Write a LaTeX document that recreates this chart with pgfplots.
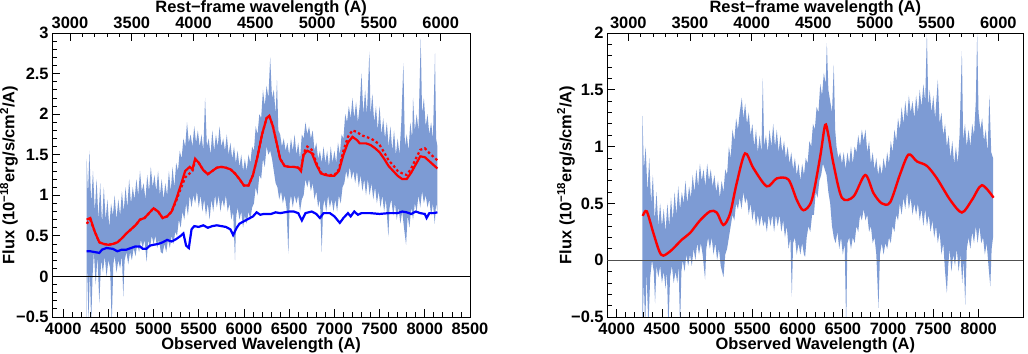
\documentclass[border=0pt]{standalone}
\usepackage{pgfplots}
\pgfplotsset{compat=1.18}
\usepgfplotslibrary{fillbetween}
\usepackage{fontspec}
\setmainfont{Liberation Sans}
\definecolor{specblue}{RGB}{125,155,212}
\definecolor{zerogray}{RGB}{80,80,80}
\newcommand{\tk}[1]{{\fontsize{16.5}{16.5}\selectfont\bfseries #1}}

\pgfplotsset{
  base/.style={
    scale only axis, height=284bp,
    /pgf/number format/assume math mode=true,
    /pgf/number format/1000 sep={},
    label style={font=\fontsize{16.5}{16.5}\selectfont\bfseries},
    major tick length=8bp, minor tick length=4.5bp,
    every tick/.style={black, line width=0.8bp},
    axis line style={line width=0.8bp},
    tick align=inside,
  },
  mainaxis/.style={
    base,
    xtick pos=left, ytick pos=left,
    minor x tick num=4, minor y tick num=4,
    xticklabel style={anchor=base, yshift=-17bp, inner sep=0pt},
    yticklabel style={anchor=east, xshift=-3.5bp, inner sep=0pt},
    xlabel style={at={(axis description cs:0.5,0)}, anchor=base, yshift=-32bp, inner sep=0pt},
    xlabel={Observed Wavelength (A)},
    ylabel={Flux (10\textsuperscript{−18}erg/s/cm\textsuperscript{2}/A)},
  },
  topaxis/.style={
    base,
    axis x line*=top, axis y line=none,
    xtick={3000,3500,...,6000}, minor x tick num=4,
    xticklabels={\tk{3000},\tk{3500},\tk{4000},\tk{4500},\tk{5000},\tk{5500},\tk{6000}},
    xticklabel style={anchor=base, yshift=4.7bp, inner sep=0pt},
    xlabel style={at={(axis description cs:0.5,1)}, anchor=base, yshift=20.5bp, inner sep=0pt},
    xlabel={Rest−frame wavelength (A)},
    ymin=0, ymax=1,
  },
}

\begin{document}
\begin{tikzpicture}

% ---------------- LEFT PANEL ----------------
\begin{axis}[mainaxis, at={(52.3bp,37bp)}, anchor=south west, width=417.7bp,
  xmin=3880, xmax=8500, ymin=-0.5, ymax=3,
  xtick={4000,4500,...,8500},
  xticklabels={\tk{4000},\tk{4500},\tk{5000},\tk{5500},\tk{6000},\tk{6500},\tk{7000},\tk{7500},\tk{8000},\tk{8500}},
  ytick={-0.5,0,0.5,1,1.5,2,2.5,3},
  yticklabels={\tk{−0.5},\tk{0},\tk{0.5},\tk{1},\tk{1.5},\tk{2},\tk{2.5},\tk{3}},
  ylabel style={at={(axis description cs:-0.0821,0.5)}, anchor=south, inner sep=0pt},
]
\addplot[name path=UL, draw=none, forget plot] coordinates {
(4260,1.45)(4275,1.0)(4290,1.55)(4310,0.9)(4330,1.3)(4350,0.8)(4370,1.2)(4390,0.7)(4410,1.15)(4430,0.65)
(4450,1.1)(4470,0.7)(4490,0.95)(4510,0.6)(4530,0.9)(4550,0.75)(4570,1.0)(4590,0.7)(4610,0.95)(4630,0.75)
(4650,1.05)(4670,0.8)(4690,1.1)(4710,0.85)(4730,1.2)(4750,0.9)(4770,1.1)(4790,0.95)(4810,1.2)(4830,1.0)
(4850,1.3)(4870,1.05)(4890,1.15)(4910,0.95)(4930,1.25)(4950,1.05)(4970,1.35)(4990,1.1)(5010,1.25)(5030,1.05)
(5050,1.3)(5070,1.0)(5090,1.2)(5110,0.95)(5130,1.15)(5150,1.0)(5170,1.3)(5190,1.05)(5210,1.35)(5230,1.1)
(5250,1.4)(5270,1.3)(5290,1.55)(5310,1.45)(5330,1.7)(5350,1.6)(5370,1.9)(5390,1.65)(5410,1.75)(5430,1.6)
(5450,1.85)(5470,1.65)(5490,1.8)(5510,1.6)(5530,1.75)(5550,1.55)(5570,2.2)(5590,1.6)(5610,1.7)(5630,1.5)
(5650,1.8)(5670,1.55)(5690,1.75)(5710,1.6)(5730,1.85)(5750,1.6)(5770,1.7)(5790,1.55)(5810,1.75)(5830,1.5)
(5850,1.65)(5870,1.45)(5890,1.6)(5910,1.4)(5930,1.55)(5950,1.35)(5970,1.5)(5990,1.3)(6010,1.45)(6030,1.3)
(6050,1.5)(6070,1.4)(6090,1.6)(6110,1.55)(6130,1.85)(6150,1.75)(6170,2.0)(6190,1.95)(6210,2.3)(6230,2.1)
(6250,2.35)(6270,2.2)(6290,2.7)(6310,2.2)(6330,2.3)(6350,2.0)(6365,2.42)(6380,1.8)(6400,1.75)(6420,1.6)
(6440,1.7)(6460,1.55)(6480,1.65)(6500,1.5)(6520,1.7)(6540,1.55)(6560,1.75)(6580,1.5)(6600,1.65)(6620,1.45)
(6640,1.75)(6660,1.7)(6680,1.9)(6700,1.75)(6720,1.85)(6740,1.7)(6760,1.8)(6780,1.55)(6800,1.65)(6820,1.45)
(6840,1.55)(6860,1.4)(6880,1.6)(6900,1.4)(6920,1.55)(6940,1.35)(6960,1.6)(6980,1.4)(7000,1.55)(7020,1.4)
(7040,1.65)(7060,1.5)(7080,1.75)(7100,1.7)(7120,2.0)(7140,1.9)(7160,2.1)(7180,1.95)(7200,2.2)(7220,1.95)
(7240,2.15)(7260,1.9)(7280,2.1)(7300,2.5)(7320,2.0)(7340,2.3)(7360,2.0)(7387,2.77)(7400,2.0)(7420,2.25)
(7440,1.9)(7460,2.1)(7480,1.8)(7500,2.1)(7520,1.75)(7540,1.95)(7560,1.7)(7580,1.9)(7600,1.6)(7620,1.85)
(7640,1.55)(7660,1.8)(7680,1.5)(7700,1.7)(7720,1.5)(7740,1.9)(7763,2.63)(7780,1.6)(7800,1.75)(7820,1.55)
(7840,1.9)(7860,1.7)(7870,2.2)(7890,1.8)(7910,2.0)(7930,1.8)(7955,2.93)(7970,2.0)(7990,2.2)(8010,1.85)
(8030,2.0)(8050,1.75)(8070,1.9)(8090,1.7)(8113,2.75)(8125,1.7)(8140,1.6)
};
\addplot[name path=LL, draw=none, forget plot] coordinates {
(4260,-0.6)(4270,0.2)(4280,-0.6)(4295,0.1)(4310,-0.6)(4325,0.0)(4340,0.3)(4360,-0.1)(4380,0.25)(4400,-0.33)
(4420,0.2)(4440,0.05)(4460,0.25)(4480,0.0)(4500,0.2)(4520,0.1)(4537,-0.6)(4555,0.15)(4570,0.25)(4590,0.05)
(4610,0.2)(4630,0.1)(4650,0.25)(4665,-0.25)(4680,0.2)(4700,0.3)(4720,0.15)(4740,0.3)(4760,0.2)(4780,0.35)
(4800,0.25)(4820,0.4)(4840,0.3)(4860,0.45)(4880,0.35)(4900,0.45)(4924,0.18)(4940,0.45)(4960,0.35)(4980,0.5)
(5000,0.4)(5020,0.5)(5040,0.35)(5060,0.45)(5080,0.3)(5100,0.28)(5120,0.4)(5140,0.3)(5160,0.45)(5180,0.35)
(5200,0.5)(5220,0.4)(5240,0.55)(5260,0.5)(5280,0.7)(5300,0.6)(5320,0.8)(5340,0.7)(5360,0.9)(5380,0.75)
(5400,1.0)(5420,0.85)(5440,1.0)(5460,0.9)(5480,1.05)(5500,0.85)(5520,1.0)(5540,0.8)(5560,0.95)(5580,0.75)
(5600,0.9)(5620,0.7)(5640,0.95)(5660,0.8)(5680,1.0)(5700,0.85)(5720,1.0)(5740,0.8)(5760,0.95)(5780,0.85)
(5800,1.0)(5820,0.8)(5840,0.9)(5860,0.7)(5880,0.8)(5901,0.2)(5915,0.75)(5930,0.85)(5950,0.7)(5970,0.8)
(5990,0.6)(6010,0.75)(6030,0.65)(6050,0.8)(6070,0.7)(6090,0.85)(6110,0.9)(6130,1.1)(6150,1.0)(6170,1.25)
(6190,1.2)(6210,1.45)(6230,1.35)(6250,1.6)(6270,1.5)(6290,1.55)(6310,1.45)(6330,1.3)(6350,1.15)(6370,1.1)
(6390,0.95)(6410,1.05)(6430,0.9)(6450,1.0)(6470,0.85)(6491,0.28)(6505,0.9)(6520,1.0)(6540,0.85)(6560,1.0)
(6580,0.9)(6600,1.0)(6620,0.8)(6640,0.95)(6660,1.0)(6680,1.2)(6700,1.1)(6720,1.2)(6740,1.05)(6760,1.15)
(6780,0.95)(6800,1.05)(6820,0.85)(6840,0.95)(6860,0.3)(6875,0.85)(6890,0.95)(6910,0.8)(6930,1.0)(6950,0.85)
(6970,0.95)(6990,0.8)(7010,0.95)(7030,0.8)(7050,1.0)(7070,0.9)(7090,1.1)(7110,1.15)(7130,1.3)(7150,1.2)
(7170,1.35)(7190,1.2)(7210,1.3)(7230,1.15)(7250,1.3)(7270,1.1)(7290,1.25)(7310,1.05)(7330,1.2)(7350,1.0)
(7370,1.2)(7390,1.0)(7410,1.15)(7430,0.95)(7450,1.1)(7470,0.9)(7490,1.05)(7510,0.85)(7530,1.0)(7550,0.8)
(7570,0.95)(7597,0.49)(7610,0.85)(7630,0.95)(7650,0.75)(7670,0.9)(7690,0.7)(7710,0.85)(7730,0.65)(7750,0.8)
(7770,0.6)(7793,0.39)(7810,0.75)(7830,0.6)(7850,0.85)(7870,0.7)(7890,0.9)(7910,0.8)(7930,1.0)(7950,0.85)
(7970,1.05)(7990,0.9)(8010,1.0)(8030,0.85)(8050,0.95)(8070,0.75)(8090,0.9)(8110,0.65)(8125,0.9)(8140,0.8)
};
\addplot[specblue, draw=none] fill between[of=UL and LL];
% blue
\addplot[blue, line width=2.2bp] coordinates {
(4260,0.31)(4300,0.31)(4350,0.30)(4400,0.29)(4430,0.33)(4480,0.35)(4550,0.34)(4600,0.31)(4650,0.33)(4700,0.33)
(4750,0.35)(4800,0.37)(4850,0.37)(4880,0.34)(4920,0.34)(4960,0.38)(5000,0.39)(5050,0.40)(5100,0.42)(5150,0.45)
(5200,0.43)(5250,0.46)(5300,0.50)(5330,0.53)(5360,0.38)(5390,0.35)(5420,0.58)(5450,0.62)(5500,0.61)(5550,0.63)
(5600,0.60)(5650,0.62)(5700,0.63)(5750,0.62)(5800,0.61)(5850,0.58)(5880,0.51)(5920,0.60)(5950,0.65)(6000,0.68)
(6050,0.71)(6100,0.74)(6140,0.79)(6180,0.76)(6220,0.77)(6300,0.77)(6350,0.79)(6400,0.78)(6450,0.79)(6500,0.80)
(6550,0.80)(6600,0.78)(6640,0.69)(6680,0.78)(6750,0.80)(6800,0.77)(6840,0.72)(6880,0.78)(6950,0.78)(7000,0.74)
(7060,0.66)(7100,0.72)(7150,0.78)(7180,0.74)(7220,0.80)(7260,0.76)(7300,0.78)(7400,0.78)(7500,0.77)(7600,0.78)
(7700,0.78)(7750,0.80)(7800,0.79)(7850,0.77)(7900,0.80)(7950,0.78)(8000,0.77)(8020,0.72)(8050,0.78)(8100,0.78)
(8140,0.79)
};
% red dotted
\addplot[red, line width=2.2bp, dash pattern=on 2.5bp off 2.5bp] coordinates {
(4260,0.65)(4300,0.70)(4350,0.55)(4400,0.42)(4450,0.40)(4500,0.39)(4550,0.40)(4600,0.42)(4650,0.47)(4700,0.53)
(4750,0.58)(4800,0.63)(4850,0.70)(4900,0.72)(4950,0.78)(5000,0.84)(5050,0.80)(5100,0.72)(5150,0.74)(5200,0.80)
(5250,0.93)(5300,1.08)(5350,1.22)(5380,1.25)(5430,1.30)(5460,1.43)(5500,1.40)(5550,1.31)(5600,1.26)(5650,1.30)
(5700,1.34)(5750,1.35)(5800,1.34)(5850,1.32)(5900,1.27)(5950,1.20)(6000,1.12)(6050,1.12)(6100,1.25)(6150,1.48)
(6200,1.75)(6250,1.95)(6280,1.98)(6320,1.85)(6360,1.65)(6400,1.45)(6450,1.36)(6500,1.35)(6550,1.35)(6600,1.34)
(6630,1.30)(6660,1.52)(6700,1.60)(6750,1.56)(6800,1.40)(6850,1.28)(6900,1.26)(6950,1.25)(7000,1.25)(7050,1.32)
(7100,1.55)(7150,1.72)(7200,1.80)(7250,1.78)(7300,1.74)(7350,1.72)(7400,1.70)(7450,1.67)(7500,1.62)(7550,1.53)
(7600,1.43)(7650,1.37)(7700,1.30)(7750,1.27)(7800,1.25)(7850,1.33)(7900,1.45)(7950,1.56)(8000,1.58)(8050,1.52)
(8100,1.47)(8140,1.43)
};
% red solid
\addplot[red, line width=2.2bp] coordinates {
(4260,0.70)(4300,0.72)(4350,0.55)(4400,0.42)(4450,0.40)(4500,0.39)(4550,0.40)(4600,0.42)(4650,0.47)(4700,0.53)
(4750,0.58)(4800,0.63)(4850,0.70)(4900,0.72)(4950,0.78)(5000,0.84)(5050,0.80)(5100,0.72)(5150,0.74)(5200,0.80)
(5250,0.95)(5300,1.12)(5350,1.30)(5400,1.35)(5430,1.32)(5460,1.45)(5500,1.40)(5550,1.31)(5600,1.26)(5650,1.30)
(5700,1.34)(5750,1.35)(5800,1.34)(5850,1.32)(5900,1.27)(5950,1.20)(6000,1.12)(6050,1.12)(6100,1.25)(6150,1.48)
(6200,1.75)(6250,1.95)(6280,1.98)(6320,1.85)(6360,1.65)(6400,1.45)(6450,1.36)(6500,1.35)(6550,1.35)(6600,1.34)
(6630,1.30)(6660,1.50)(6700,1.55)(6750,1.52)(6800,1.38)(6850,1.27)(6900,1.25)(6950,1.24)(7000,1.24)(7050,1.30)
(7100,1.50)(7150,1.65)(7200,1.72)(7250,1.68)(7280,1.64)(7350,1.64)(7400,1.62)(7450,1.58)(7500,1.53)(7550,1.45)
(7600,1.36)(7650,1.30)(7700,1.24)(7750,1.20)(7800,1.20)(7850,1.28)(7900,1.38)(7950,1.48)(8000,1.47)(8050,1.42)
(8100,1.37)(8140,1.33)
};
\addplot[black, line width=0.6bp] coordinates {(3880,0) (8500,0)};
\end{axis}
\begin{axis}[topaxis, at={(52.3bp,37bp)}, anchor=south west, width=417.7bp,
  xmin=2856.8, xmax=6237]
\addplot[draw=none] coordinates {(4000,0.5)};
\end{axis}

% ---------------- RIGHT PANEL ----------------
\begin{axis}[mainaxis, at={(607.3bp,37bp)}, anchor=south west, width=416bp,
  xmin=3896, xmax=8495, ymin=-0.5, ymax=2,
  xtick={4000,4500,...,8000},
  xticklabels={\tk{4000},\tk{4500},\tk{5000},\tk{5500},\tk{6000},\tk{6500},\tk{7000},\tk{7500},\tk{8000}},
  ytick={-0.5,0,0.5,1,1.5,2},
  yticklabels={\tk{−0.5},\tk{0},\tk{0.5},\tk{1},\tk{1.5},\tk{2}},
  ylabel style={at={(axis description cs:-0.0776,0.5)}, anchor=south, inner sep=0pt},
]
\addplot[name path=UR, draw=none, forget plot] coordinates {
(4285,1.27)(4300,0.8)(4320,1.0)(4340,0.6)(4360,0.9)(4380,0.5)(4400,0.75)(4420,0.35)(4440,0.6)(4460,0.3)
(4480,0.5)(4500,0.3)(4520,0.45)(4540,0.25)(4560,0.5)(4580,0.3)(4600,0.55)(4620,0.35)(4640,0.6)(4660,0.4)
(4680,0.65)(4700,0.45)(4720,0.6)(4740,0.5)(4760,0.7)(4780,0.5)(4800,0.65)(4820,0.55)(4840,0.75)(4860,0.6)
(4880,0.8)(4900,0.65)(4920,0.85)(4940,0.7)(4960,0.8)(4980,0.65)(5000,0.85)(5020,0.7)(5040,0.8)(5060,0.65)
(5080,0.75)(5100,0.6)(5120,0.7)(5140,0.55)(5160,0.7)(5180,0.6)(5200,0.8)(5220,0.75)(5240,1.0)(5260,0.9)
(5280,1.15)(5300,1.05)(5320,1.25)(5340,1.15)(5360,1.3)(5383,1.43)(5400,1.25)(5420,1.38)(5440,1.2)(5460,1.3)
(5480,1.1)(5500,1.2)(5520,1.0)(5540,1.15)(5560,0.95)(5580,1.1)(5600,0.95)(5615,1.6)(5630,1.0)(5650,1.1)
(5670,0.95)(5690,1.15)(5710,1.0)(5730,1.2)(5750,1.0)(5770,1.15)(5790,0.95)(5810,1.1)(5830,0.95)(5850,1.05)
(5870,0.9)(5890,1.0)(5910,0.85)(5930,0.95)(5950,0.8)(5970,0.9)(5990,0.75)(6010,0.85)(6030,0.7)(6050,0.85)
(6070,0.75)(6090,0.9)(6110,0.85)(6130,1.05)(6150,1.0)(6170,1.2)(6190,1.15)(6210,1.35)(6230,1.3)(6250,1.55)
(6270,1.45)(6290,1.65)(6310,1.55)(6323,1.91)(6340,1.5)(6360,1.4)(6380,1.3)(6400,1.72)(6415,1.15)(6430,1.0)
(6450,0.9)(6470,0.95)(6490,0.85)(6510,0.95)(6530,0.8)(6550,0.95)(6570,0.85)(6590,1.0)(6610,0.85)(6630,1.0)
(6650,0.95)(6670,1.1)(6690,1.0)(6710,1.15)(6730,1.05)(6750,1.15)(6770,0.95)(6790,1.05)(6810,0.85)(6830,0.95)
(6850,0.8)(6870,0.9)(6890,0.75)(6910,0.85)(6930,0.75)(6950,0.9)(6970,0.8)(6990,0.95)(7010,0.85)(7030,1.05)
(7050,0.95)(7070,1.15)(7090,1.05)(7110,1.25)(7130,1.15)(7150,1.35)(7170,1.2)(7190,1.4)(7210,1.25)(7230,1.45)
(7250,1.3)(7270,1.4)(7290,1.25)(7310,1.45)(7330,1.3)(7350,1.5)(7370,1.35)(7390,1.55)(7410,1.4)(7429,2.0)
(7445,1.35)(7460,1.5)(7480,1.3)(7500,1.45)(7520,1.25)(7550,1.59)(7570,1.2)(7590,1.3)(7610,1.1)(7630,1.2)
(7650,1.0)(7670,1.1)(7690,0.9)(7710,1.05)(7730,0.85)(7750,1.0)(7770,0.85)(7790,1.1)(7816,1.84)(7830,1.05)
(7850,1.2)(7870,1.0)(7890,1.15)(7910,1.0)(7930,1.2)(7950,1.1)(7970,1.4)(7985,2.0)(8000,1.3)(8020,1.15)
(8040,1.25)(8060,1.05)(8080,1.15)(8100,0.95)(8120,1.45)(8140,0.95)(8160,0.9)
};
\addplot[name path=LR, draw=none, forget plot] coordinates {
(4285,-0.6)(4300,-0.2)(4315,-0.6)(4330,-0.1)(4350,-0.6)(4370,-0.15)(4390,0.0)(4410,-0.1)(4424,-0.38)(4440,-0.05)
(4460,-0.15)(4480,-0.05)(4500,-0.2)(4520,-0.1)(4540,-0.25)(4555,-0.1)(4571,-0.6)(4590,-0.15)(4610,-0.05)(4630,-0.2)
(4650,-0.1)(4670,-0.2)(4685,-0.05)(4700,-0.6)(4715,-0.1)(4730,0.0)(4750,-0.1)(4770,0.05)(4790,-0.05)(4810,0.05)
(4830,-0.05)(4850,0.1)(4870,0.0)(4890,0.15)(4910,0.05)(4930,0.15)(4950,0.05)(4977,-0.17)(4990,0.1)(5010,0.2)
(5030,0.1)(5050,0.2)(5070,0.05)(5090,0.15)(5110,0.0)(5130,0.1)(5150,-0.05)(5180,-0.15)(5200,0.05)(5220,0.1)
(5240,0.2)(5260,0.3)(5280,0.4)(5300,0.35)(5320,0.5)(5340,0.45)(5360,0.55)(5380,0.45)(5400,0.6)(5420,0.5)
(5440,0.55)(5460,0.4)(5480,0.5)(5500,0.35)(5520,0.45)(5540,0.3)(5560,0.4)(5580,0.3)(5600,0.4)(5620,0.3)
(5640,0.35)(5660,0.25)(5680,0.4)(5700,0.3)(5720,0.4)(5740,0.25)(5760,0.4)(5780,0.3)(5800,0.4)(5820,0.25)
(5840,0.35)(5860,0.2)(5880,0.3)(5900,0.1)(5920,0.2)(5936,-0.32)(5950,0.15)(5970,0.2)(5990,0.05)(6010,0.15)
(6030,0.05)(6050,0.15)(6070,0.05)(6083,0.03)(6100,0.2)(6120,0.3)(6140,0.25)(6160,0.4)(6180,0.4)(6200,0.6)
(6220,0.55)(6240,0.7)(6260,0.75)(6280,0.85)(6300,0.8)(6320,0.75)(6340,0.6)(6360,0.5)(6380,0.3)(6400,0.2)
(6420,0.15)(6440,0.25)(6460,0.1)(6480,0.2)(6500,0.05)(6520,0.15)(6537,-0.6)(6550,0.15)(6570,0.2)(6590,0.1)
(6610,0.2)(6630,0.15)(6650,0.3)(6670,0.25)(6690,0.4)(6710,0.35)(6730,0.45)(6750,0.35)(6770,0.4)(6790,0.25)
(6810,0.3)(6830,0.15)(6850,0.2)(6870,0.05)(6894,-0.42)(6910,0.05)(6930,0.15)(6950,0.05)(6970,0.15)(6990,0.1)
(7010,0.2)(7030,0.15)(7050,0.3)(7070,0.25)(7090,0.4)(7110,0.35)(7130,0.5)(7150,0.4)(7170,0.55)(7190,0.45)
(7210,0.6)(7230,0.45)(7250,0.55)(7270,0.4)(7290,0.5)(7310,0.4)(7330,0.5)(7350,0.35)(7370,0.45)(7390,0.3)
(7410,0.45)(7430,0.3)(7450,0.4)(7470,0.25)(7490,0.35)(7510,0.2)(7530,0.3)(7550,0.15)(7570,0.25)(7590,0.05)
(7610,0.15)(7630,-0.1)(7650,-0.29)(7665,-0.05)(7680,0.1)(7700,-0.1)(7720,0.05)(7740,-0.05)(7760,0.1)(7780,-0.1)
(7800,0.05)(7820,-0.2)(7835,0.0)(7853,-0.39)(7870,0.1)(7890,0.2)(7910,0.1)(7930,0.25)(7950,0.15)(7970,0.3)
(7990,0.15)(8010,0.3)(8030,0.15)(8050,0.2)(8070,0.05)(8090,0.15)(8110,-0.05)(8130,-0.23)(8145,0.1)(8160,0.2)
};
\addplot[specblue, draw=none] fill between[of=UR and LR];
\addplot[red, line width=2.4bp, smooth] coordinates {
(4288,0.39)(4332,0.43)(4405,0.24)(4470,0.08)(4515,0.04)(4608,0.09)(4719,0.18)(4811,0.24)(4921,0.35)(5032,0.43)
(5106,0.42)(5179,0.31)(5253,0.41)(5327,0.68)(5419,0.94)(5511,0.81)(5659,0.65)(5770,0.72)(5898,0.71)(5991,0.53)
(6064,0.44)(6157,0.53)(6249,0.91)(6304,1.19)(6340,1.10)(6396,0.85)(6489,0.55)(6617,0.56)(6747,0.75)(6839,0.59)
(6931,0.50)(7023,0.51)(7134,0.76)(7226,0.93)(7318,0.87)(7429,0.83)(7540,0.72)(7687,0.53)(7816,0.42)(7927,0.53)
(8037,0.66)(8166,0.55)
};
\addplot[zerogray, line width=1bp] coordinates {(3896,0) (8495,0)};
\end{axis}
\begin{axis}[topaxis, at={(607.3bp,37bp)}, anchor=south west, width=416bp,
  xmin=2829.7, xmax=6202.7]
\addplot[draw=none] coordinates {(4000,0.5)};
\end{axis}
\pgfresetboundingbox
\useasboundingbox (0bp,0bp) rectangle (1028bp,354bp);
\end{tikzpicture}
\end{document}
